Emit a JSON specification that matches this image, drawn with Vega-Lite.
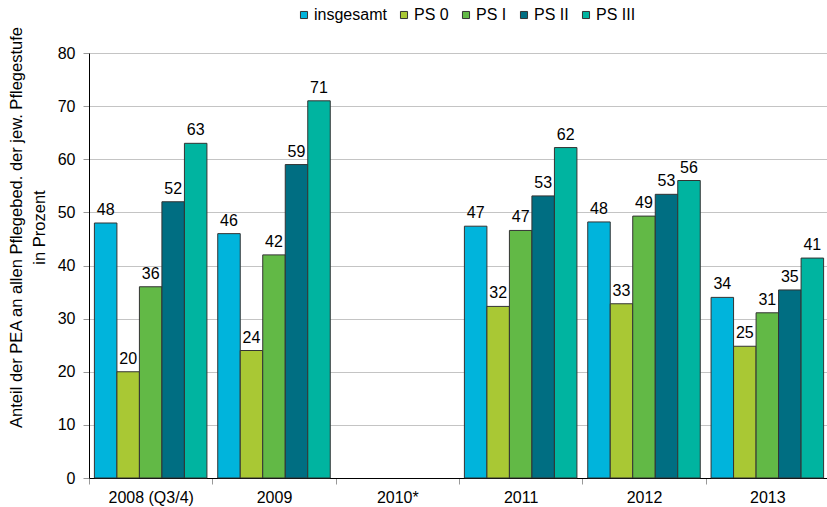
{
  "$schema": "https://vega.github.io/schema/vega-lite/v6.json",
  "width": 740,
  "height": 425,
  "padding": {"left": 8, "top": 7, "right": 0, "bottom": 2},
  "background": "white",
  "config": {
    "font": "Liberation Sans",
    "view": {"stroke": null}
  },
  "data": {
    "values": [
      {"jahr": "2008 (Q3/4)", "gruppe": "insgesamt", "wert": 48},
      {"jahr": "2008 (Q3/4)", "gruppe": "PS 0", "wert": 20},
      {"jahr": "2008 (Q3/4)", "gruppe": "PS I", "wert": 36},
      {"jahr": "2008 (Q3/4)", "gruppe": "PS II", "wert": 52},
      {"jahr": "2008 (Q3/4)", "gruppe": "PS III", "wert": 63},
      {"jahr": "2009", "gruppe": "insgesamt", "wert": 46},
      {"jahr": "2009", "gruppe": "PS 0", "wert": 24},
      {"jahr": "2009", "gruppe": "PS I", "wert": 42},
      {"jahr": "2009", "gruppe": "PS II", "wert": 59},
      {"jahr": "2009", "gruppe": "PS III", "wert": 71},
      {"jahr": "2011", "gruppe": "insgesamt", "wert": 47.4},
      {"jahr": "2011", "gruppe": "PS 0", "wert": 32.3},
      {"jahr": "2011", "gruppe": "PS I", "wert": 46.6},
      {"jahr": "2011", "gruppe": "PS II", "wert": 53.1},
      {"jahr": "2011", "gruppe": "PS III", "wert": 62.2},
      {"jahr": "2012", "gruppe": "insgesamt", "wert": 48.2},
      {"jahr": "2012", "gruppe": "PS 0", "wert": 32.8},
      {"jahr": "2012", "gruppe": "PS I", "wert": 49.3},
      {"jahr": "2012", "gruppe": "PS II", "wert": 53.4},
      {"jahr": "2012", "gruppe": "PS III", "wert": 56.0},
      {"jahr": "2013", "gruppe": "insgesamt", "wert": 34.0},
      {"jahr": "2013", "gruppe": "PS 0", "wert": 24.8},
      {"jahr": "2013", "gruppe": "PS I", "wert": 31.1},
      {"jahr": "2013", "gruppe": "PS II", "wert": 35.4},
      {"jahr": "2013", "gruppe": "PS III", "wert": 41.4}
    ]
  },
  "encoding": {
    "x": {
      "field": "jahr",
      "type": "nominal",
      "sort": null,
      "scale": {"domain": ["2008 (Q3/4)", "2009", "2010*", "2011", "2012", "2013"], "paddingInner": 0, "paddingOuter": 0},
      "axis": {
        "title": null,
        "labelAngle": 0,
        "labelFontSize": 16,
        "labelColor": "#000",
        "labelPadding": 5,
        "tickBand": "extent",
        "tickColor": "#999",
        "tickSize": 6,
        "domainColor": "#000",
        "grid": false
      }
    },
    "xOffset": {
      "field": "gruppe",
      "type": "nominal",
      "sort": ["insgesamt", "PS 0", "PS I", "PS II", "PS III"],
      "scale": {"paddingInner": 0, "paddingOuter": 0.24}
    },
    "y": {
      "field": "wert",
      "type": "quantitative",
      "scale": {"domain": [0, 80], "nice": false},
      "axis": {
        "values": [0, 10, 20, 30, 40, 50, 60, 70, 80],
        "title": ["Anteil der PEA an allen Pflegebed. der jew. Pflegestufe", "in Prozent"],
        "titleFontSize": 16.5,
        "titleLineHeight": 23,
        "titleFontWeight": "normal",
        "titleColor": "#000",
        "titlePadding": 10,
        "titleY": 174,
        "labelFontSize": 16,
        "labelColor": "#000",
        "labelPadding": 8,
        "tickColor": "#999",
        "tickSize": 6,
        "domainColor": "#000",
        "gridColor": "#c4c4c4"
      }
    }
  },
  "layer": [
    {
      "mark": {"type": "bar", "stroke": "#333", "strokeWidth": 1},
      "encoding": {
        "color": {
          "field": "gruppe",
          "type": "nominal",
          "sort": ["insgesamt", "PS 0", "PS I", "PS II", "PS III"],
          "scale": {
            "domain": ["insgesamt", "PS 0", "PS I", "PS II", "PS III"],
            "range": ["#00B4DC", "#A9C834", "#62B946", "#006E82", "#00B4A0"]
          },
          "legend": {
            "title": null,
            "orient": "none",
            "direction": "horizontal",
            "legendX": 207,
            "legendY": -46,
            "symbolType": "square",
            "symbolSize": 50,
            "symbolStrokeColor": "#333",
            "symbolStrokeWidth": 1,
            "labelFontSize": 16,
            "labelColor": "#000",
            "labelOffset": 2,
            "columnPadding": 9
          }
        }
      }
    },
    {
      "mark": {"type": "text", "dy": -8, "baseline": "alphabetic", "fontSize": 16, "color": "#000"},
      "encoding": {
        "text": {"field": "wert", "type": "quantitative", "format": ".0f"}
      }
    }
  ]
}
